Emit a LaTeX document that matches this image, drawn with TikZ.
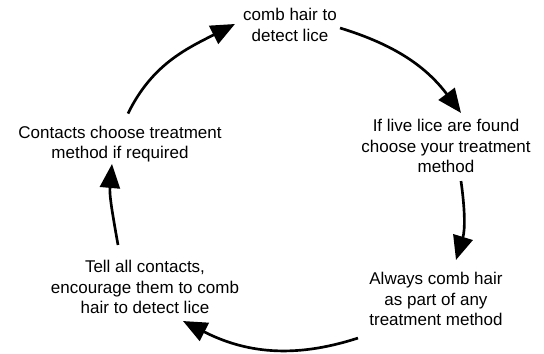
\documentclass[tikz,border=0pt]{standalone}
\usepackage{fontspec}
\setmainfont{Liberation Sans}
\usetikzlibrary{arrows.meta}
\begin{document}
\begin{tikzpicture}[x=0.75pt, y=0.75pt, >={Triangle[length=18pt,width=15pt]}]
\tikzstyle{n} = [align=center, inner sep=0pt, font=\fontsize{12.75}{15.4}\selectfont]
\tikzstyle{e} = [draw=black, line width=2pt, ->]

\useasboundingbox (0,0) rectangle (544,-354);

\node[n] (comb) at (290,-25) {comb hair to\\detect lice};
\node[n] (found) at (446,-146) {If live lice are found\\choose your treatment\\method};
\node[n] (always) at (436,-299) {Always comb hair\\as part of any\\treatment method};
\node[n] (tell) at (145,-287) {Tell all contacts,\\encourage them to comb\\hair to detect lice};
\node[n] (contacts) at (120,-144) {Contacts choose treatment\\method if required};

\draw[e] ([shift={(8,12)}]contacts.north) to[out=64, in=207] ([shift={(-8,1)}]comb.west);
\draw[e] ([shift={(3,-3)}]comb.east) to[out=-17, in=127] ([shift={(15,6)}]found.north);
\draw[e] ([shift={(15,-8)}]found.south) to[out=-82, in=73] ([shift={(20,12)}]always.north);
\draw[e] ([shift={(-78,-12)}]always.south) to[out=198, in=-27] ([shift={(38,-7)}]tell.south);
\draw[e] ([shift={(-27,15)}]tell.north) to[out=100, in=-95] ([shift={(-8,-1.5)}]contacts.south);
\end{tikzpicture}
\end{document}
